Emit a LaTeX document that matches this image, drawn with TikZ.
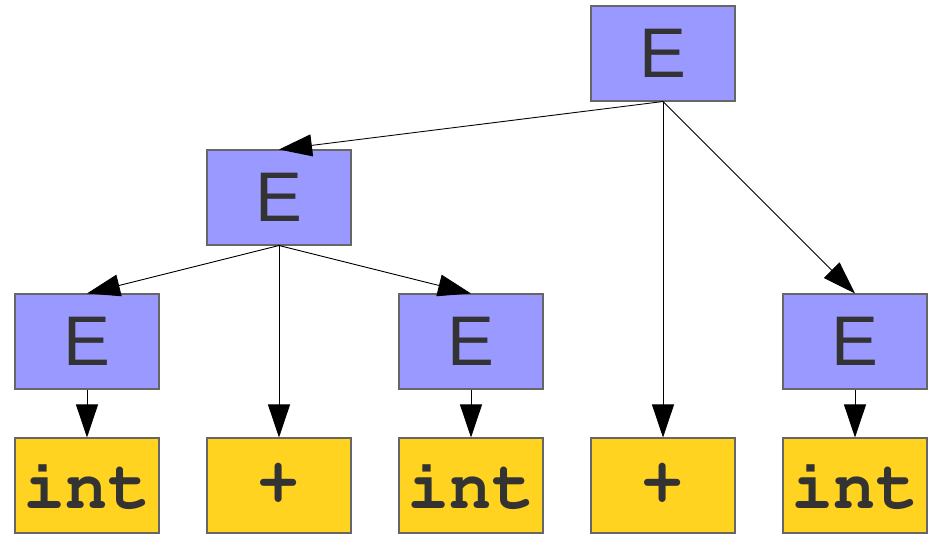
\documentclass[tikz,border=0pt]{standalone}
\usepackage{fontspec}
\setsansfont{Liberation Sans}
\usetikzlibrary{arrows.meta}
\definecolor{ntblue}{RGB}{153, 153, 255}
\definecolor{tkgold}{RGB}{255, 211, 32}
\definecolor{boxgray}{RGB}{102, 102, 102}
\definecolor{textgray}{RGB}{51, 51, 51}

\tikzset{
  nonterm/.style={draw=boxgray, fill=ntblue, text=textgray, line width=0.6pt,
    minimum width=2.88cm, minimum height=1.9cm, inner sep=0pt,
    font=\sffamily\fontsize{40}{40}\selectfont},
  token/.style={nonterm, fill=tkgold,
    font=\fontencoding{T1}\fontfamily{pcr}\fontseries{b}\fontsize{40}{40}\selectfont},
  edge/.style={line width=0.5pt, -{Triangle[length=0.66cm, width=0.44cm]}}
}

\begin{document}
\begin{tikzpicture}[x=0.02cm, y=-0.02cm]
    \useasboundingbox (0,0) rectangle (937,536);

    %% nonterminals
    \node[nonterm] (eroot)  at (663,53.5)  {E};
    \node[nonterm] (eleft)  at (279,197.5) {E};
    \node[nonterm] (eleaf1) at (87,341.5)  {E};
    \node[nonterm] (eleaf2) at (471,341.5) {E};
    \node[nonterm] (eleaf3) at (855,341.5) {E};

    %% tokens
    \node[token] (int1)  at (87,485.5)  {int};
    \node[token] (plus1) at (279,485.5) {+};
    \node[token] (int2)  at (471,485.5) {int};
    \node[token] (plus2) at (663,485.5) {+};
    \node[token] (int3)  at (855,485.5) {int};

    %% edges
    \draw[edge] (eroot.south) -- (eleft.north);
    \draw[edge] (eroot.south) -- (plus2.north);
    \draw[edge] (eroot.south) -- (eleaf3.north);
    \draw[edge] (eleft.south) -- (eleaf1.north);
    \draw[edge] (eleft.south) -- (plus1.north);
    \draw[edge] (eleft.south) -- (eleaf2.north);
    \draw[edge] (eleaf1.south) -- (int1.north);
    \draw[edge] (eleaf2.south) -- (int2.north);
    \draw[edge] (eleaf3.south) -- (int3.north);
  \end{tikzpicture}
\end{document}
